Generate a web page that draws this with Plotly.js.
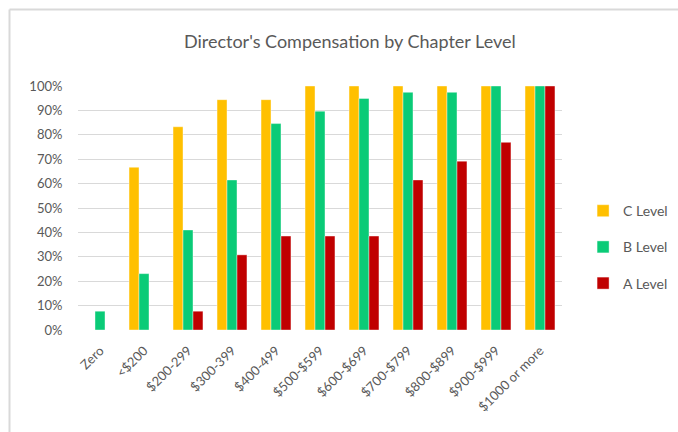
<!DOCTYPE html>
<html>
<head>
<meta charset="utf-8">
<script src="https://cdn.plot.ly/plotly-3.0.1.min.js"></script>
<style>html,body{margin:0;padding:0;background:#fff;}#chart{width:678px;height:432px;}</style>
</head>
<body>
<div id="chart"></div>
<script>
const categories = ["Zero", "<$200", "$200-299", "$300-399", "$400-499", "$500-$599", "$600-$699", "$700-$799", "$800-$899", "$900-$999", "$1000 or more"];
const cLevel = [0, 0.667, 0.833, 0.944, 0.944, 1, 1, 1, 1, 1, 1];
const bLevel = [0.077, 0.231, 0.410, 0.615, 0.846, 0.897, 0.949, 0.974, 0.974, 1, 1];
const aLevel = [0, 0, 0.077, 0.308, 0.385, 0.385, 0.385, 0.615, 0.692, 0.769, 1];
const seriesNames = ["C Level", "B Level", "A Level"];
const yTicks = [0, 0.1, 0.2, 0.3, 0.4, 0.5, 0.6, 0.7, 0.8, 0.9, 1];

const colors = ["#FFC000", "#0ACB77", "#C00000"];
const values = [cLevel, bLevel, aLevel];
const font = "Lato, 'Open Sans', sans-serif";

const traces = values.map((v, i) => ({
  type: "bar",
  name: seriesNames[i],
  x: categories,
  y: v,
  marker: {color: colors[i], line: {color: "rgba(255,255,255,0.5)", width: 0.8}},
  legendgroup: "g" + i,
  hoverinfo: "x+y+name"
}));

const layout = {
  width: 678, height: 432,
  margin: {l: 78, r: 116, t: 86, b: 102, pad: 0},
  paper_bgcolor: "#fff", plot_bgcolor: "#fff",
  font: {family: font, color: "#595959", size: 13},
  title: {text: "Director's Compensation by Chapter Level", font: {family: font, size: 18, color: "#595959"},
          xref: "container", x: 0.516, xanchor: "center", yref: "container", y: 0.903, yanchor: "middle"},
  barmode: "group", bargap: 0.32, bargroupgap: 0,
  xaxis: {type: "category", tickangle: -45, showgrid: false, zeroline: false, showline: false,
          ticks: "outside", ticklen: 7, tickcolor: "rgba(0,0,0,0)", tickfont: {size: 13, color: "#595959"}, automargin: false},
  yaxis: {range: [0, 1], tickvals: yTicks, tickformat: ".0%", showgrid: true, gridcolor: "#d9d9d9", gridwidth: 1,
          zeroline: false, showline: false, ticks: "outside", ticklen: 12, tickcolor: "rgba(0,0,0,0)",
          tickfont: {size: 13, color: "#595959"}, automargin: false, fixedrange: true},
  legend: {xref: "container", yref: "container", x: 0.860, xanchor: "left", y: 0.428, yanchor: "middle",
           font: {size: 14, color: "#595959"}, tracegroupgap: 15, itemwidth: 30, bgcolor: "rgba(0,0,0,0)"},
  shapes: [
    {type: "line", xref: "paper", yref: "paper", x0: -0.1415, x1: 1.24, y0: 1.3135, y1: 1.3135, line: {color: "#d9d9d9", width: 2}},
    {type: "line", xref: "paper", yref: "paper", x0: -0.1415, x1: -0.1415, y0: 1.3135, y1: -0.42, line: {color: "#d9d9d9", width: 2}}
  ],
  showlegend: true
};

Plotly.newPlot("chart", traces, layout, {displayModeBar: false, staticPlot: true});
</script>
</body>
</html>
